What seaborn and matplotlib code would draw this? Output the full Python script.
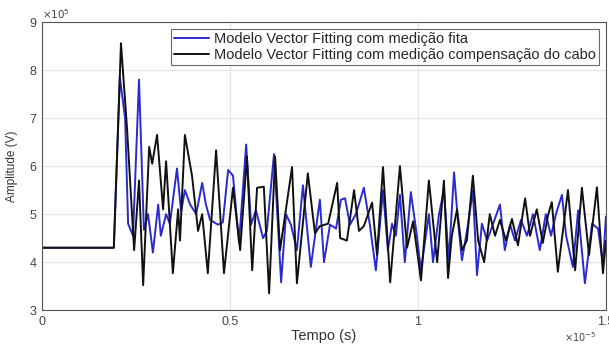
import matplotlib
matplotlib.use("Agg")
import matplotlib.pyplot as plt
import seaborn as sns
import pandas as pd

# dados (tempo em 1e-5 s, amplitude em 1e5 V)
t_fita = [0, 0.191, 0.207, 0.221, 0.229, 0.242, 0.258, 0.271, 0.282, 0.295, 0.309, 0.316,
          0.330, 0.340, 0.359, 0.370, 0.380, 0.394, 0.410, 0.426, 0.436, 0.447, 0.468, 0.481,
          0.495, 0.508, 0.524, 0.543, 0.556, 0.569, 0.588, 0.598, 0.617, 0.636, 0.649, 0.662,
          0.678, 0.694, 0.715, 0.739, 0.750, 0.766, 0.782, 0.795, 0.806, 0.819, 0.835, 0.856,
          0.872, 0.888, 0.907, 0.920, 0.931, 0.941, 0.952, 0.965, 0.981, 0.995, 1.008, 1.029,
          1.040, 1.056, 1.069, 1.082, 1.096, 1.106, 1.117, 1.133, 1.146, 1.157, 1.170, 1.184,
          1.199, 1.218, 1.231, 1.245, 1.258, 1.274, 1.290, 1.306, 1.324, 1.340, 1.354, 1.367,
          1.383, 1.394, 1.412, 1.426, 1.444, 1.463, 1.479, 1.492, 1.5]
v_fita = [4.3, 4.3, 7.85, 7.0, 4.8, 4.55, 7.8, 4.67, 5.0, 4.2, 5.2, 4.55,
          5.0, 4.8, 5.95, 5.05, 5.5, 5.2, 5.0, 5.65, 5.2, 4.88, 4.78, 4.83,
          5.92, 5.8, 4.4, 6.45, 4.78, 5.08, 4.5, 4.65, 6.25, 3.58, 5.0, 4.78,
          4.25, 5.6, 3.9, 5.3, 4.0, 4.78, 4.7, 5.3, 5.33, 4.78, 5.0, 5.55,
          4.78, 3.83, 5.5, 4.25, 4.8, 4.55, 5.4, 4.0, 5.46, 4.67, 3.83, 5.0,
          4.0, 5.0, 5.5, 4.04, 5.87, 4.88, 4.04, 4.78, 5.5, 3.73, 4.8, 4.45,
          4.78, 5.2, 4.25, 4.78, 4.45, 4.88, 4.55, 5.0, 4.25, 5.0, 4.55, 5.0,
          5.4, 4.55, 3.9, 5.08, 3.56, 4.8, 4.7, 3.95, 4.95]

t_cabo = [0, 0.191, 0.210, 0.226, 0.245, 0.258, 0.269, 0.285, 0.293, 0.306, 0.322, 0.330,
          0.348, 0.362, 0.367, 0.380, 0.399, 0.415, 0.426, 0.441, 0.463, 0.484, 0.508, 0.527,
          0.545, 0.559, 0.572, 0.590, 0.604, 0.620, 0.633, 0.646, 0.665, 0.678, 0.707, 0.726,
          0.739, 0.761, 0.785, 0.793, 0.811, 0.830, 0.843, 0.856, 0.878, 0.891, 0.907, 0.926,
          0.952, 0.971, 0.987, 1.008, 1.029, 1.051, 1.069, 1.080, 1.090, 1.104, 1.117, 1.130,
          1.146, 1.160, 1.176, 1.191, 1.205, 1.218, 1.234, 1.250, 1.266, 1.285, 1.298, 1.316,
          1.332, 1.346, 1.356, 1.372, 1.399, 1.418, 1.436, 1.455, 1.476, 1.492, 1.5]
v_cabo = [4.3, 4.3, 8.56, 6.8, 4.25, 5.7, 3.52, 6.4, 6.05, 6.65, 5.1, 6.1,
          3.77, 5.1, 4.45, 6.65, 5.8, 4.65, 5.0, 3.77, 6.33, 3.77, 5.55, 4.25,
          6.2, 3.83, 5.55, 5.57, 3.35, 6.2, 4.25, 4.95, 5.98, 3.56, 5.85, 4.6,
          4.75, 4.8, 5.65, 4.5, 4.45, 5.5, 4.65, 4.75, 5.24, 4.15, 5.98, 3.58,
          6.0, 4.3, 4.85, 3.62, 5.7, 4.0, 5.7, 3.67, 4.55, 5.1, 4.25, 4.45,
          5.8, 4.45, 4.0, 5.0, 4.55, 4.88, 4.45, 4.9, 4.35, 5.33, 4.55, 5.1,
          4.4, 4.98, 5.25, 3.8, 5.5, 3.83, 5.55, 4.15, 5.56, 3.77, 4.45]

labels = ["Modelo Vector Fitting com medição fita",
          "Modelo Vector Fitting com medição compensação do cabo"]
cores = ["#2a2ad2", "#111111"]

df = pd.concat([
    pd.DataFrame({"t": t_fita, "v": v_fita, "serie": labels[0]}),
    pd.DataFrame({"t": t_cabo, "v": v_cabo, "serie": labels[1]}),
])

sns.set_style("white")
plt.rcParams["font.family"] = ["Liberation Sans", "DejaVu Sans"]

fig = plt.figure(figsize=(6.09, 3.45), dpi=100)
ax = fig.add_axes([0.069, 0.101, 0.926, 0.835])

sns.lineplot(data=df, x="t", y="v", hue="serie", palette=cores, linewidth=1.4,
             estimator=None, sort=False, ax=ax)

ax.set_xlim(0, 1.5)
ax.set_ylim(3, 9)
ax.set_xticks([0, 0.5, 1, 1.5])
ax.set_xticklabels(["0", "0.5", "1", "1.5"])
ax.set_yticks(range(3, 10))
ax.grid(True, color="#e2e2e2", linewidth=0.8)
ax.tick_params(direction="in", length=3, labelsize=9, colors="#444444", pad=4)
for s in ax.spines.values():
    s.set_color("#555555")
    s.set_linewidth(0.8)

ax.set_xlabel("Tempo (s)", fontsize=10.5, color="#333333", labelpad=1)
ax.set_ylabel("Amplitude (V)", fontsize=8.5, color="#333333", labelpad=8)
ax.text(0.0, 1.01, r"$\times10^5$", transform=ax.transAxes, fontsize=7.5, color="#444444")
ax.text(0.925, -0.095, r"$\times10^{-5}$", transform=ax.transAxes, fontsize=7,
        color="#444444", va="center")

leg = ax.legend(loc="upper right", fontsize=10.5, frameon=True, fancybox=False,
                borderpad=0.25, labelspacing=0.1, handlelength=2.4, handletextpad=0.3,
                borderaxespad=0.45)
leg.get_frame().set_edgecolor("#444444")
leg.get_frame().set_linewidth(0.8)

fig.savefig("out.png", dpi=100)
